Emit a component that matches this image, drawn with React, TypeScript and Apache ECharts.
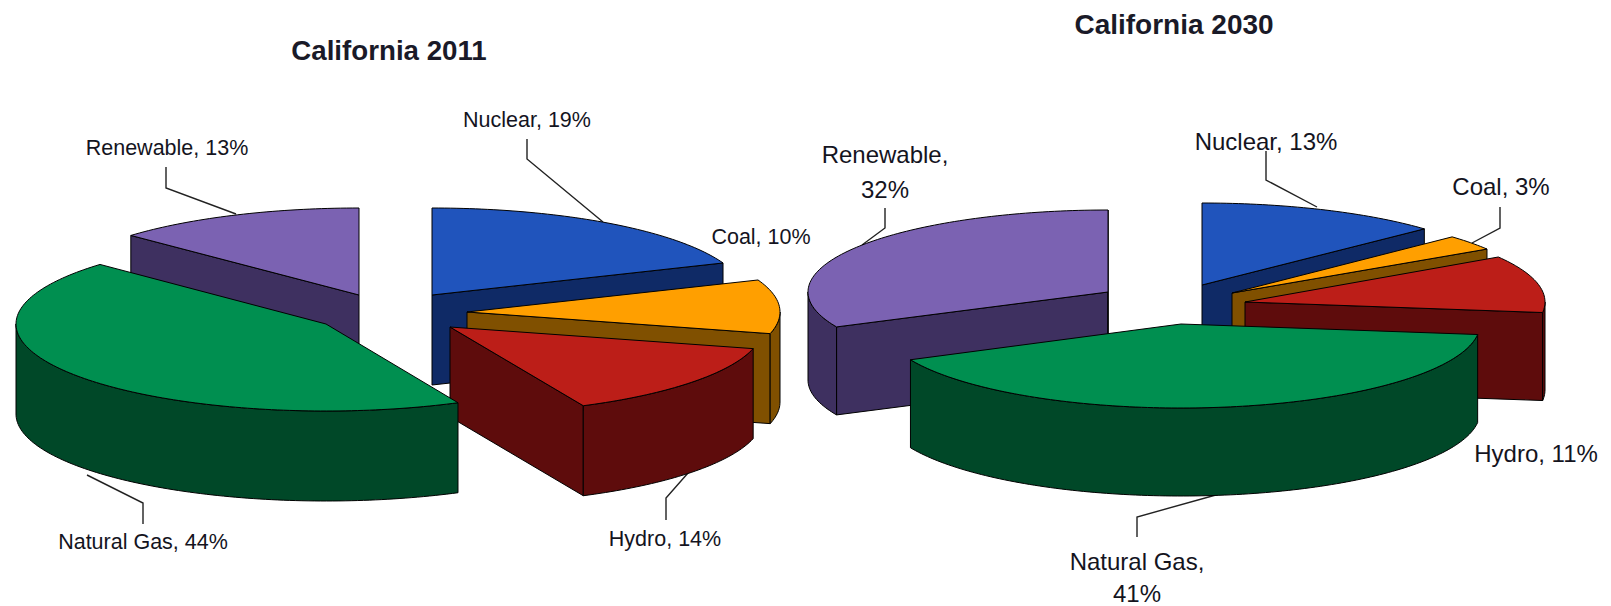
import React, { useEffect, useRef } from "react";
import * as echarts from "echarts";

const categories = ["Nuclear", "Coal", "Hydro", "Natural Gas", "Renewable"];
const shares2011 = [19, 10, 14, 44, 13];
const shares2030 = [13, 3, 11, 41, 32];
const titles = ["California 2011", "California 2030"];

const topColors = ["#2054BC", "#FF9F00", "#BC1E18", "#008F50", "#7B62B2"];
const sideColors = ["#0F2A66", "#805000", "#5E0C0C", "#004828", "#3E3060"];

// Painted back to front, so nearer wedges overlap the ones behind them.
const paintOrder = [4, 0, 1, 2, 3];

type Wedge = { x: number; y: number; rx: number; ry: number; d: number };

const wedges2011: Wedge[] = [
  { x: 432, y: 295, rx: 313, ry: 87, d: 90 },
  { x: 467, y: 312, rx: 313, ry: 87, d: 90 },
  { x: 450, y: 327, rx: 313, ry: 87, d: 90 },
  { x: 326, y: 324, rx: 310, ry: 87, d: 90 },
  { x: 359, y: 295, rx: 313, ry: 87, d: 90 },
];
const wedges2030: Wedge[] = [
  { x: 1202, y: 285, rx: 305, ry: 82, d: 88 },
  { x: 1232, y: 293, rx: 302, ry: 82, d: 88 },
  { x: 1245, y: 302, rx: 300, ry: 84, d: 88 },
  { x: 1181, y: 324, rx: 299, ry: 84, d: 88 },
  { x: 1108, y: 292, rx: 300, ry: 82, d: 88 },
];

const labelFont = "'Liberation Sans', Arial, sans-serif";

const labelSpots2011 = [
  { x: 527, y: 120 },
  { x: 761, y: 237 },
  { x: 665, y: 539 },
  { x: 143, y: 542 },
  { x: 167, y: 148 },
];
const labelSpots2030 = [
  { x: 1266, y: 141 },
  { x: 1501, y: 186 },
  { x: 1536, y: 453 },
  { x: 1137, y: 561, gap: 32 },
  { x: 885, y: 154, gap: 35 },
];

const leaders: number[][][] = [
  [[166, 167], [166, 188], [236, 214]],
  [[527, 139], [527, 159], [603, 222]],
  [[666, 520], [666, 498], [688, 473]],
  [[143, 524], [143, 503], [87, 475]],
  [[885, 208], [885, 228], [862, 245]],
  [[1266, 151], [1266, 180], [1317, 207]],
  [[1500, 207], [1500, 228], [1472, 243]],
  [[1137, 537], [1137, 517], [1223, 493]],
];

const toRad = (share: number) => (share / 100) * Math.PI * 2;

function wedgeSeries(shares: number[], layout: Wedge[]) {
  const starts = shares.map((_, i) =>
    shares.slice(0, i).reduce((sum, v) => sum + v, 0)
  );
  return {
    type: "custom",
    coordinateSystem: "none",
    silent: true,
    data: paintOrder.map((i) => [i, shares[i], starts[i]]),
    renderItem: (_params: unknown, api: any) => {
      const idx = api.value(0);
      const a0 = toRad(api.value(2));
      const a1 = a0 + toRad(api.value(1));
      const { x, y, rx, ry, d } = layout[idx];
      const rim = (a: number, drop = 0) => [
        x + rx * Math.sin(a),
        y - ry * Math.cos(a) + drop,
      ];
      // Points along the rim between two angles, for the curved outlines.
      const arc = (from: number, to: number, drop = 0) => {
        const steps = Math.max(2, Math.ceil(Math.abs(to - from) / 0.02));
        return Array.from({ length: steps + 1 }, (_, k) =>
          rim(from + ((to - from) * k) / steps, drop)
        );
      };
      const edge = { stroke: "#000", lineWidth: 1, lineJoin: "round" };
      const side = { fill: sideColors[idx], ...edge };
      const children: any[] = [];

      // Straight cut faces that turn towards the viewer.
      if (Math.sin(a0) < 0) {
        children.push({
          type: "polygon",
          shape: { points: [[x, y], rim(a0), rim(a0, d), [x, y + d]] },
          style: side,
        });
      }
      if (Math.sin(a1) > 0) {
        children.push({
          type: "polygon",
          shape: { points: [[x, y], rim(a1), rim(a1, d), [x, y + d]] },
          style: side,
        });
      }

      // Curved outer wall, only along the front half of the ellipse.
      const w0 = Math.max(a0, Math.PI / 2);
      const w1 = Math.min(a1, (Math.PI * 3) / 2);
      if (w1 > w0) {
        children.push({
          type: "polygon",
          shape: { points: [...arc(w0, w1), ...arc(w1, w0, d)] },
          style: side,
        });
      }

      // Upper surface of the wedge.
      children.push({
        type: "polygon",
        shape: { points: [[x, y], ...arc(a0, a1)] },
        style: { fill: topColors[idx], ...edge },
      });
      return { type: "group", children };
    },
  };
}

export default function App() {
  const ref = useRef<HTMLDivElement>(null);

  useEffect(() => {
    document.body.style.margin = "0";
    const chart = echarts.init(ref.current!, undefined, { renderer: "svg" });
    const textAt = (text: string, x: number, y: number, size: number) => ({
      type: "text",
      x,
      y,
      silent: true,
      style: {
        text,
        fill: "#14141e",
        font: `${size}px ${labelFont}`,
        lineHeight: size,
        textAlign: "center",
        textVerticalAlign: "middle",
      },
    });
    // A wrapped label is two separate lines: the name, then the percentage.
    const labelGraphics = (
      spots: { x: number; y: number; gap?: number }[],
      shares: number[],
      size: number
    ) =>
      spots.flatMap((s, i) =>
        s.gap
          ? [
              textAt(`${categories[i]},`, s.x, s.y, size),
              textAt(`${shares[i]}%`, s.x, s.y + s.gap, size),
            ]
          : [textAt(`${categories[i]}, ${shares[i]}%`, s.x, s.y, size)]
      );

    chart.setOption({
      animation: false,
      backgroundColor: "#fff",
      title: [
        {
          text: titles[0],
          left: 384,
          top: 45,
          textAlign: "center",
          textVerticalAlign: "middle",
          textStyle: { fontFamily: labelFont, fontSize: 27.7, fontWeight: "bold", color: "#1a1a28" },
        },
        {
          text: titles[1],
          left: 1169,
          top: 19,
          textAlign: "center",
          textVerticalAlign: "middle",
          textStyle: { fontFamily: labelFont, fontSize: 28, fontWeight: "bold", color: "#1a1a28" },
        },
      ],
      series: [wedgeSeries(shares2011, wedges2011), wedgeSeries(shares2030, wedges2030)],
      graphic: [
        ...leaders.map((points) => ({
          type: "polyline",
          silent: true,
          shape: { points },
          style: { stroke: "#222", lineWidth: 1.4, fill: "none" },
        })),
        ...labelGraphics(labelSpots2011, shares2011, 21.5),
        ...labelGraphics(labelSpots2030, shares2030, 24),
      ],
    });
    return () => chart.dispose();
  }, []);

  return <div ref={ref} style={{ width: 1611, height: 606 }} />;
}
